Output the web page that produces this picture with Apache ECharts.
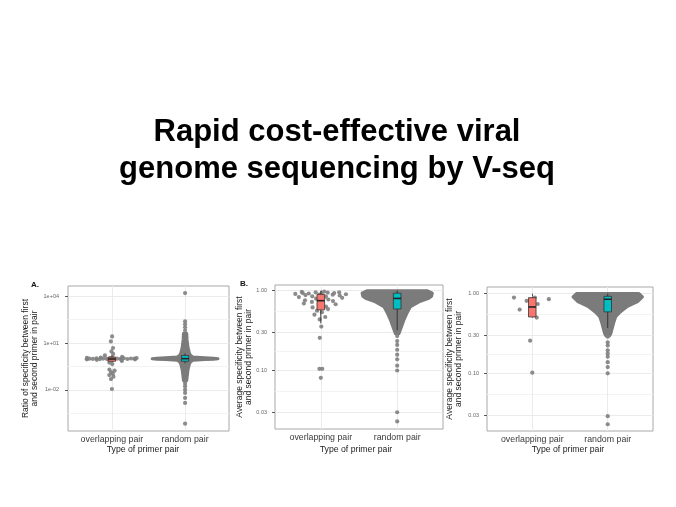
<!DOCTYPE html>
<html><head><meta charset="utf-8">
<script src="https://cdn.jsdelivr.net/npm/echarts@6/dist/echarts.min.js"></script>
<style>html,body{margin:0;padding:0;background:#fff}#c{width:676px;height:507px}</style>
</head><body><div id="c"></div>
<script>
// ---------- text ----------
const titleLines = ['Rapid cost-effective viral', 'genome sequencing by V-seq'];
const categories = ['overlapping pair', 'random pair'];
const xAxisTitle = 'Type of primer pair';
const panelLabels = ['A.', 'B.', ''];
const yTitles = [
  'Ratio of specificity between first\nand second primer in pair',
  'Average specificity between first\nand second primer in pair',
  'Average specificity between first\nand second primer in pair'
];

// ---------- tick values ----------
const ticksA = [0.01, 10, 10000];
const tickLabelsA = ['1e-02', '1e+01', '1e+04'];
const ticksB = [0.03, 0.10, 0.30, 1.00];
const tickLabelsB = ['0.03', '0.10', '0.30', '1.00'];

// ---------- panel A: ratio of specificity ----------
const ratioOverlap = [26.3, 12.6, 4.8, 2.9, 2.0, 1.6, 1.3, 1.18, 1.15, 1.12, 1.10, 1.08, 1.06, 1.04, 1.02, 1.01, 1.00, 1.00,
  0.99, 0.98, 0.97, 0.96, 0.95, 0.94, 0.92, 0.91, 0.90, 0.88, 0.86, 0.84, 0.71, 0.56, 0.45, 0.20, 0.17, 0.14, 0.11,
  0.089, 0.071, 0.050, 0.0115];
const ratioRandomLevels = [39.8, 15.8, 5.0, 2.24, 1.58, 1.26, 1.15, 1.07, 1.0, 0.93, 0.87, 0.79, 0.63, 0.45, 0.2, 0.063, 0.04];
const ratioRandomDensity = [0.05, 0.06, 0.09, 0.13, 0.17, 0.24, 0.6, 0.86, 1.0, 0.86, 0.6, 0.24, 0.17, 0.13, 0.09, 0.06, 0.05];
const ratioRandomTail = [15500, 240, 158, 100, 63, 0.035, 0.025, 0.017, 0.0105, 0.0065, 0.0031, 0.0015, 0.00007];
const ratioBoxes = [[0.6, 0.68, 0.95, 1.25, 1.6], [0.5, 0.68, 1.0, 1.58, 2.2]];

// ---------- panel B: average specificity ----------
const specOverlapB = [0.977, 0.966, 0.955, 0.955, 0.944, 0.933, 0.933, 0.923, 0.912, 0.912, 0.902, 0.891, 0.891, 0.881,
  0.871, 0.851, 0.841, 0.832, 0.813, 0.794, 0.776, 0.759, 0.741, 0.724, 0.708, 0.692, 0.676, 0.661, 0.631, 0.617,
  0.589, 0.562, 0.537, 0.501, 0.468, 0.437, 0.355, 0.257, 0.105, 0.105, 0.081];
const specRandomLevelsB = [1.0, 0.933, 0.851, 0.794, 0.724, 0.631, 0.513, 0.427, 0.331, 0.288];
const specRandomDensityB = [0.85, 1.0, 0.98, 0.88, 0.62, 0.38, 0.27, 0.19, 0.10, 0.05];
const specRandomTailB = [0.27, 0.234, 0.209, 0.182, 0.158, 0.138, 0.115, 0.10, 0.030, 0.023];
const specBoxesB = [[0.39, 0.575, 0.75, 0.90, 1.0], [0.32, 0.59, 0.80, 0.93, 1.0]];

// ---------- panel C: average specificity ----------
const specOverlapC = [0.891, 0.891, 0.851, 0.813, 0.741, 0.631, 0.501, 0.257, 0.102];
const specRandomLevelsC = [1.0, 0.912, 0.794, 0.692, 0.589, 0.513, 0.427, 0.316, 0.295];
const specRandomDensityC = [0.9, 1.0, 0.86, 0.57, 0.36, 0.23, 0.17, 0.09, 0.05];
const specRandomTailC = [0.288, 0.245, 0.224, 0.195, 0.178, 0.162, 0.138, 0.12, 0.10, 0.029, 0.023];
const specBoxesC = [[0.50, 0.51, 0.68, 0.89, 0.91], [0.37, 0.59, 0.85, 0.925, 1.0]];

// ---------- helpers ----------
const FONT = '"Liberation Sans", Arial, Helvetica, sans-serif';
const L10 = v => Math.log10(v);
const boxColors = ['#F8766D', '#00BFC4'];
const DOT = '#7f7f7f';

function vdc(n) { let v = 0, d = 1; while (n > 0) { d *= 2; v += (n % 2) / d; n = Math.floor(n / 2); } return v; }
// quasirandom (ggbeeswarm-like) horizontal offsets scaled by kernel density
function quasiOffsets(logs, bw, width) {
  const dens = logs.map(a => logs.reduce((s, b) => s + Math.exp(-0.5 * Math.pow((a - b) / bw, 2)), 0));
  const maxD = Math.max.apply(null, dens);
  const order = logs.map((v, i) => i).sort((i, j) => logs[i] - logs[j]);
  const off = new Array(logs.length);
  order.forEach((idx, rank) => { off[idx] = (vdc(rank + 1) - 0.5) * 2 * width * dens[idx] / maxD; });
  return off;
}

const panels = [
  { grid: { left: 68, top: 286, width: 161, height: 145 }, yMin: -4.62, yMax: 4.64, ticks: ticksA, tickLabels: tickLabelsA,
    overlap: ratioOverlap, levels: ratioRandomLevels, density: ratioRandomDensity, tail: ratioRandomTail, boxes: ratioBoxes,
    bw: 0.12, swarmWidth: 0.38, violinWidth: 0.45, labelMargin: 9,
    label: { x: 31, y: 284.5 }, yTitle: { x: 30.5, y: 358.5 }, xTitle: { x: 143, y: 450 } },
  { grid: { left: 275, top: 285, width: 168, height: 144 }, yMin: -1.733, yMax: 0.0714, ticks: ticksB, tickLabels: tickLabelsB,
    overlap: specOverlapB, levels: specRandomLevelsB, density: specRandomDensityB, tail: specRandomTailB, boxes: specBoxesB,
    bw: 0.06, swarmWidth: 0.36, violinWidth: 0.46, labelMargin: 8,
    label: { x: 240, y: 283.5 }, yTitle: { x: 244, y: 357 }, xTitle: { x: 356, y: 450 } },
  { grid: { left: 487, top: 287, width: 166, height: 144 }, yMin: -1.723, yMax: 0.083, ticks: ticksB, tickLabels: tickLabelsB,
    overlap: specOverlapC, levels: specRandomLevelsC, density: specRandomDensityC, tail: specRandomTailC, boxes: specBoxesC,
    bw: 0.1, swarmWidth: 0.3, violinWidth: 0.46, labelMargin: 8,
    label: { x: 450, y: 283.5 }, yTitle: { x: 454.5, y: 359 }, xTitle: { x: 568, y: 450 } }
];

const option = { animation: false, grid: [], xAxis: [], yAxis: [], series: [], graphic: [] };

panels.forEach((p, i) => {
  option.grid.push(Object.assign({ show: true, borderColor: '#a8a8a8', borderWidth: 1, outerBoundsMode: 'none', containLabel: false }, p.grid));
  option.xAxis.push({
    type: 'value', gridIndex: i, min: 0.4, max: 2.6,
    axisLine: { show: false },
    axisTick: { show: true, customValues: [1, 2], length: 3, lineStyle: { color: '#555' } },
    axisLabel: { customValues: [1, 2], formatter: v => categories[Math.round(v) - 1], fontSize: 8.8, color: '#3a3a3a', fontFamily: FONT, margin: 4 },
    splitLine: { show: true, lineStyle: { color: '#ebebeb', width: 1 } }
  });
  const majors = p.ticks.map(L10);
  option.yAxis.push({
    type: 'value', gridIndex: i, min: p.yMin, max: p.yMax,
    axisLine: { show: false },
    axisTick: { show: true, customValues: majors, length: 3, lineStyle: { color: '#555' } },
    axisLabel: {
      customValues: majors, fontSize: 5.5, color: '#666', fontFamily: FONT, margin: p.labelMargin,
      formatter: v => { let k = 0; majors.forEach((m, j) => { if (Math.abs(m - v) < Math.abs(majors[k] - v)) k = j; }); return p.tickLabels[k]; }
    },
    splitLine: { show: true, lineStyle: { color: '#ebebeb', width: 1 } }
  });
});
// minor grid lines (midpoints between major breaks on the log scale)
panels.forEach((p, i) => {
  const m = p.ticks.map(L10).sort((a, b) => a - b);
  const minors = [];
  for (let k = 0; k < m.length - 1; k++) minors.push((m[k] + m[k + 1]) / 2);
  minors.push(m[0] - (m[1] - m[0]) / 2, m[m.length - 1] + (m[m.length - 1] - m[m.length - 2]) / 2);
  const mv = minors.filter(v => v > p.yMin && v < p.yMax);
  option.yAxis.push({
    type: 'value', gridIndex: i, min: p.yMin, max: p.yMax, position: 'right',
    axisLine: { show: false }, axisTick: { show: false, customValues: mv }, axisLabel: { show: false },
    splitLine: { show: true, lineStyle: { color: '#f3f3f3', width: 1 } }
  });
});

panels.forEach((p, i) => {
  // dense random-pair swarm outline from density profile
  option.series.push({
    type: 'custom', xAxisIndex: i, yAxisIndex: i, z: 2, silent: true,
    data: [[2, 0]],
    renderItem: (params, api) => {
      const cx = api.value(0);
      const right = [], left = [];
      p.levels.forEach((v, k) => {
        const w = p.density[k] * p.violinWidth;
        right.push(api.coord([cx + w, L10(v)]));
        left.push(api.coord([cx - w, L10(v)]));
      });
      return { type: 'polygon', shape: { points: right.concat(left.reverse()) },
        style: { fill: '#7b7b7b', stroke: '#7b7b7b', lineWidth: 3, lineJoin: 'round' } };
    }
  });
  // overlapping-pair points
  const logs = p.overlap.map(L10);
  const off = quasiOffsets(logs, p.bw, p.swarmWidth);
  option.series.push({
    type: 'scatter', xAxisIndex: i, yAxisIndex: i, z: 3, silent: true,
    symbolSize: 4.2, itemStyle: { color: DOT, opacity: 0.9 },
    data: logs.map((L, k) => [1 + off[k], L])
  });
  // random-pair sparse tail points
  option.series.push({
    type: 'scatter', xAxisIndex: i, yAxisIndex: i, z: 3, silent: true,
    symbolSize: 4.2, itemStyle: { color: DOT, opacity: 0.9 },
    data: p.tail.map(v => [2, L10(v)])
  });
  // box plots
  option.series.push({
    type: 'custom', xAxisIndex: i, yAxisIndex: i, z: 4, silent: true,
    encode: { x: 0, y: [1, 2, 3, 4, 5] },
    data: p.boxes.map((b, k) => [k + 1].concat(b.map(L10))),
    renderItem: (params, api) => {
      const x = api.value(0);
      const c = d => api.coord([x, api.value(d)]);
      const lo = c(1), q1 = c(2), md = c(3), q3 = c(4), hi = c(5);
      const hw = api.size([0.1, 0])[0] / 2;
      const cx = lo[0];
      return { type: 'group', children: [
        { type: 'line', shape: { x1: cx, y1: lo[1], x2: cx, y2: q1[1] }, style: { stroke: '#333', lineWidth: 1 } },
        { type: 'line', shape: { x1: cx, y1: q3[1], x2: cx, y2: hi[1] }, style: { stroke: '#333', lineWidth: 1 } },
        { type: 'rect', shape: { x: cx - hw, y: q3[1], width: 2 * hw, height: q1[1] - q3[1] },
          style: { fill: boxColors[params.dataIndex], stroke: '#333', lineWidth: 0.8 } },
        { type: 'line', shape: { x1: cx - hw, y1: md[1], x2: cx + hw, y2: md[1] }, style: { stroke: '#222', lineWidth: 1.6 } }
      ] };
    }
  });
  // texts
  if (panelLabels[i]) option.graphic.push({ type: 'text', x: p.label.x, y: p.label.y,
    style: { text: panelLabels[i], fontSize: 8, fontWeight: 'bold', fontFamily: FONT, fill: '#111', align: 'left', verticalAlign: 'middle' } });
  option.graphic.push({ type: 'text', x: p.yTitle.x, y: p.yTitle.y, rotation: Math.PI / 2,
    style: { text: yTitles[i], fontSize: 8.5, fontFamily: FONT, fill: '#222', align: 'center', verticalAlign: 'middle', lineHeight: 9 } });
  option.graphic.push({ type: 'text', x: p.xTitle.x, y: p.xTitle.y,
    style: { text: xAxisTitle, fontSize: 8.7, fontFamily: FONT, fill: '#222', align: 'center', verticalAlign: 'middle' } });
});

option.graphic.push({ type: 'text', x: 337, y: 113.5,
  style: { text: titleLines.join('\n'), fontSize: 31, fontWeight: 'bold', fontFamily: FONT, fill: '#000',
    align: 'center', verticalAlign: 'top', lineHeight: 37 } });

const chart = echarts.init(document.getElementById('c'), null, { renderer: 'canvas', width: 676, height: 507 });
chart.setOption(option);
</script>
</body></html>
